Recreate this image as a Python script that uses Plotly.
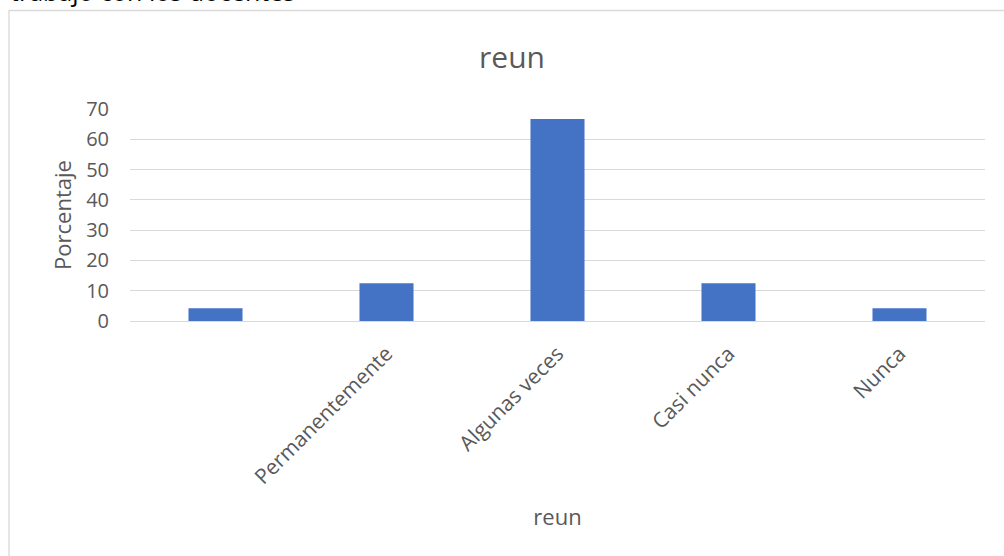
import plotly.graph_objects as go

categories = [" ", "Permanentemente", "Algunas veces", "Casi nunca", "Nunca"]
porcentaje = [4.17, 12.5, 66.67, 12.5, 4.17]
y_ticks = [0, 10, 20, 30, 40, 50, 60, 70]

FONT = "Open Sans"
GREY = "#595959"

fig = go.Figure(go.Bar(x=categories, y=porcentaje, marker_color="#4472C4",
                       marker_line_width=0))

W, H = 1004, 556
L, R, T, B = 130, 19, 109, 235
pw, ph = W - L - R, H - T - B

def px_x(px):
    return (px - L) / pw

def px_y(py):
    return (H - B - py) / ph

fig.update_layout(
    width=W, height=H,
    margin=dict(l=L, r=R, t=T, b=B, pad=0),
    plot_bgcolor="white", paper_bgcolor="white",
    bargap=0.684,
    showlegend=False,
    font=dict(family=FONT, color=GREY),
    title=dict(text="reun", x=512 / W, xref="container", xanchor="center",
               y=1 - 57 / H, yref="container", yanchor="middle",
               font=dict(size=30, color=GREY, family=FONT)),
    xaxis=dict(type="category", tickangle=-45, tickfont=dict(size=21, color=GREY),
               showgrid=False, showline=True, linecolor="#d9d9d9", linewidth=1.3,
               ticks="", ticklabelstandoff=11, automargin=False,
               title=dict(text="reun", font=dict(size=22, color=GREY), standoff=20)),
    yaxis=dict(range=[0, 70], tickvals=y_ticks, tickfont=dict(size=20, color=GREY),
               showgrid=True, gridcolor="#d9d9d9", gridwidth=1.3,
               zeroline=False, showline=False, ticks="", ticklabelstandoff=20,
               automargin=False,
               title=dict(text="Porcentaje", font=dict(size=22, color=GREY), standoff=8)),
)

fig.add_shape(type="rect", xref="paper", yref="paper",
              x0=px_x(9), x1=px_x(1015), y0=px_y(575), y1=px_y(10.5),
              line=dict(color="#d9d9d9", width=1.3), fillcolor="rgba(0,0,0,0)",
              layer="below")

fig.add_annotation(text="trabajo con los docentes", xref="paper", yref="paper",
                   x=px_x(8), y=px_y(10), xanchor="left", yanchor="bottom",
                   showarrow=False, font=dict(size=25, color="#000000", family=FONT))

fig.write_html("out.html", config={"displayModeBar": False},
               post_script="document.body.style.margin='0';document.body.style.overflow='hidden';")
